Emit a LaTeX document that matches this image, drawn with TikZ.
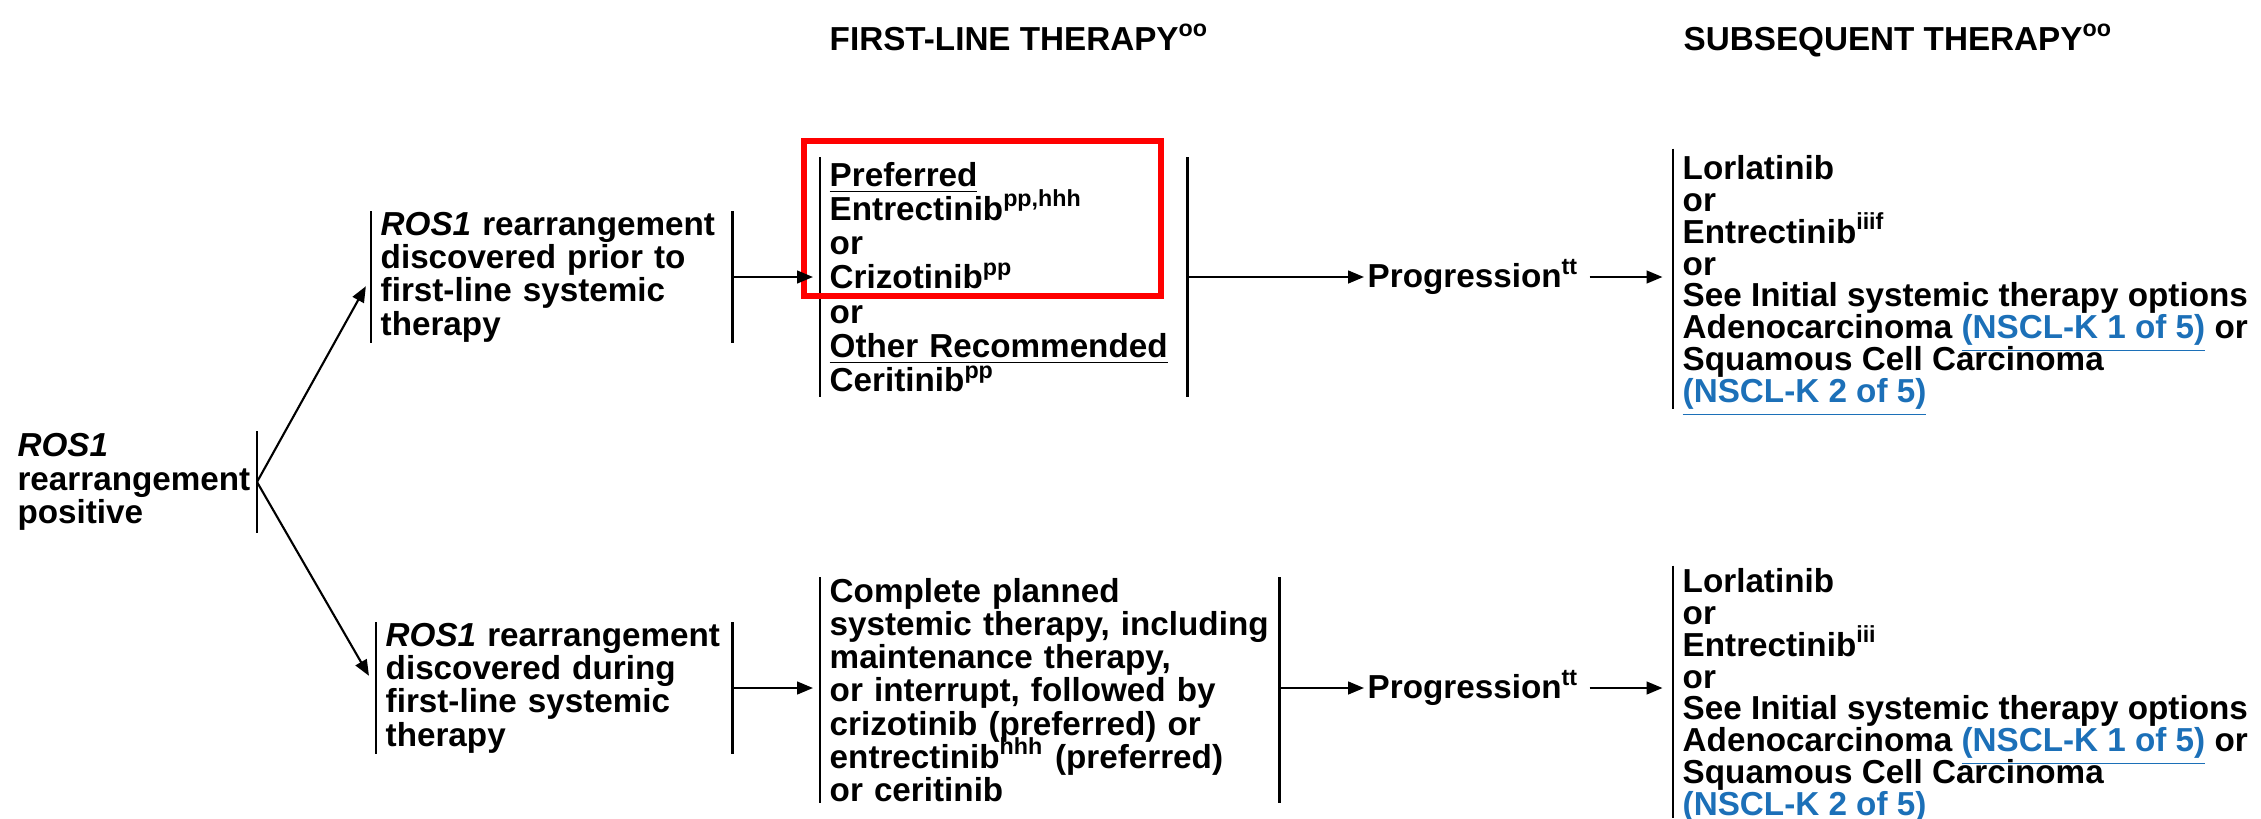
\documentclass[tikz,border=0pt]{standalone}
\usepackage{fontspec}
\setmainfont{Liberation Sans}
\usetikzlibrary{positioning}
\usetikzlibrary{arrows.meta,calc}

\definecolor{linkblue}{RGB}{28,112,184}
\newcommand{\nscl}[1]{\textcolor{linkblue}{\underline{#1}}}
\newcommand{\sps}[1]{\textsuperscript{#1}}
\newcommand{\lead}[1]{\fontsize{9.45}{#1}\selectfont\bfseries\lineskiplimit=-9pt\relax}

\tikzset{
  txt/.style={align=left, inner ysep=0pt, inner xsep=0.09cm, font=\lead{9.45pt}},
  arr/.style={-{Triangle[length=4.5pt,width=3.6pt]}, line width=0.6pt},
  bar/.style={line width=0.8pt},
}

\begin{document}
\begin{tikzpicture}[x=0.01cm, y=-0.01cm]
\useasboundingbox (0,0) rectangle (2261,818);

% column headings
\node[txt, anchor=base west, inner xsep=0pt] (hfirst) at (829,50) {FIRST-LINE THERAPY\sps{oo}};
\node[txt, anchor=base west, inner xsep=0pt] (hsub) at (1683,50) {SUBSEQUENT THERAPY\sps{oo}};

% start
\node[txt, anchor=east, inner xsep=0.06cm, minimum height=1.0cm] (pos) at (257,482)
  {\textit{ROS1}\\rearrangement\\positive};

% second column
\node[txt, anchor=west, text width=3.42cm, minimum height=1.3cm] (rtop) at (371,277)
  {\textit{ROS1} rearrangement\\discovered prior to\\first-line systemic\\therapy};
\node[txt, anchor=west, text width=3.37cm, minimum height=1.3cm] (rbot) at (376,688)
  {\textit{ROS1} rearrangement\\discovered during\\first-line systemic\\therapy};

% first-line therapy
\node[txt, font=\lead{9.75pt}, anchor=west, text width=3.48cm, minimum height=2.38cm] (fltop) at (820,277)
  {\underline{Preferred}\\Entrectinib\sps{pp,hhh}\\or\\Crizotinib\sps{pp}\\or\\
   \underline{Other Recommended}\\Ceritinib\sps{pp}};
\node[txt, anchor=west, text width=4.4cm, minimum height=2.2cm] (flbot) at (820,690)
  {Complete planned\\systemic therapy, including\\maintenance therapy,\\
   or interrupt, followed by\\crizotinib (preferred) or\\
   entrectinib\sps{hhh} (preferred)\\or ceritinib};

% progression
\node[txt, anchor=west, inner xsep=0.03cm] (progtop) at (1364,277) {Progression\sps{tt}};
\node[txt, anchor=west, inner xsep=0.03cm] (progbot) at (1364,688) {Progression\sps{tt}};

% subsequent therapy
\node[txt, font=\lead{9.05pt}, anchor=west, minimum height=2.59cm] (subtop) at (1673,279)
  {Lorlatinib\\or\\Entrectinib\sps{iiif}\\or\\See Initial systemic therapy options\\
   Adenocarcinoma \nscl{(NSCL-K 1 of 5)} or\\Squamous Cell Carcinoma\\\smash{\nscl{(NSCL-K 2 of 5)}}};
\node[txt, font=\lead{9.05pt}, anchor=west, minimum height=2.51cm] (subbot) at (1673,692)
  {Lorlatinib\\or\\Entrectinib\sps{iii}\\or\\See Initial systemic therapy options\\
   Adenocarcinoma \nscl{(NSCL-K 1 of 5)} or\\Squamous Cell Carcinoma\\\smash{\nscl{(NSCL-K 2 of 5)}}};

% bars
\draw[bar] (pos.north east) -- (pos.south east);
\foreach \n in {rtop,rbot,fltop,flbot}{
  \draw[bar] (\n.north west) -- (\n.south west);
  \draw[bar] (\n.north east) -- (\n.south east);
}
\draw[bar] (subtop.north west) -- (subtop.south west);
\draw[bar] (subbot.north west) -- (subbot.south west);

% highlight
\draw[red, line width=1.8pt] (804,141) rectangle (1161,296);

% arrows
\draw[arr, shorten >=3pt] (pos.east) -- (rtop.west);
\draw[arr, shorten >=4pt] (pos.east) -- (rbot.west);
\draw[arr, shorten >=2pt] (rtop.east) -- (rtop.east -| fltop.west);
\draw[arr, shorten >=2pt] (rbot.east) -- (rbot.east -| flbot.west);
\draw[arr] (fltop.east) -- (progtop.west);
\draw[arr] (flbot.east |- progbot.west) -- (progbot.west);
\draw[arr, shorten <=2pt, shorten >=3pt] (progtop.east) -- (progtop.east -| subtop.west);
\draw[arr, shorten <=2pt, shorten >=3pt] (progbot.east) -- (progbot.east -| subbot.west);

\end{tikzpicture}
\end{document}
